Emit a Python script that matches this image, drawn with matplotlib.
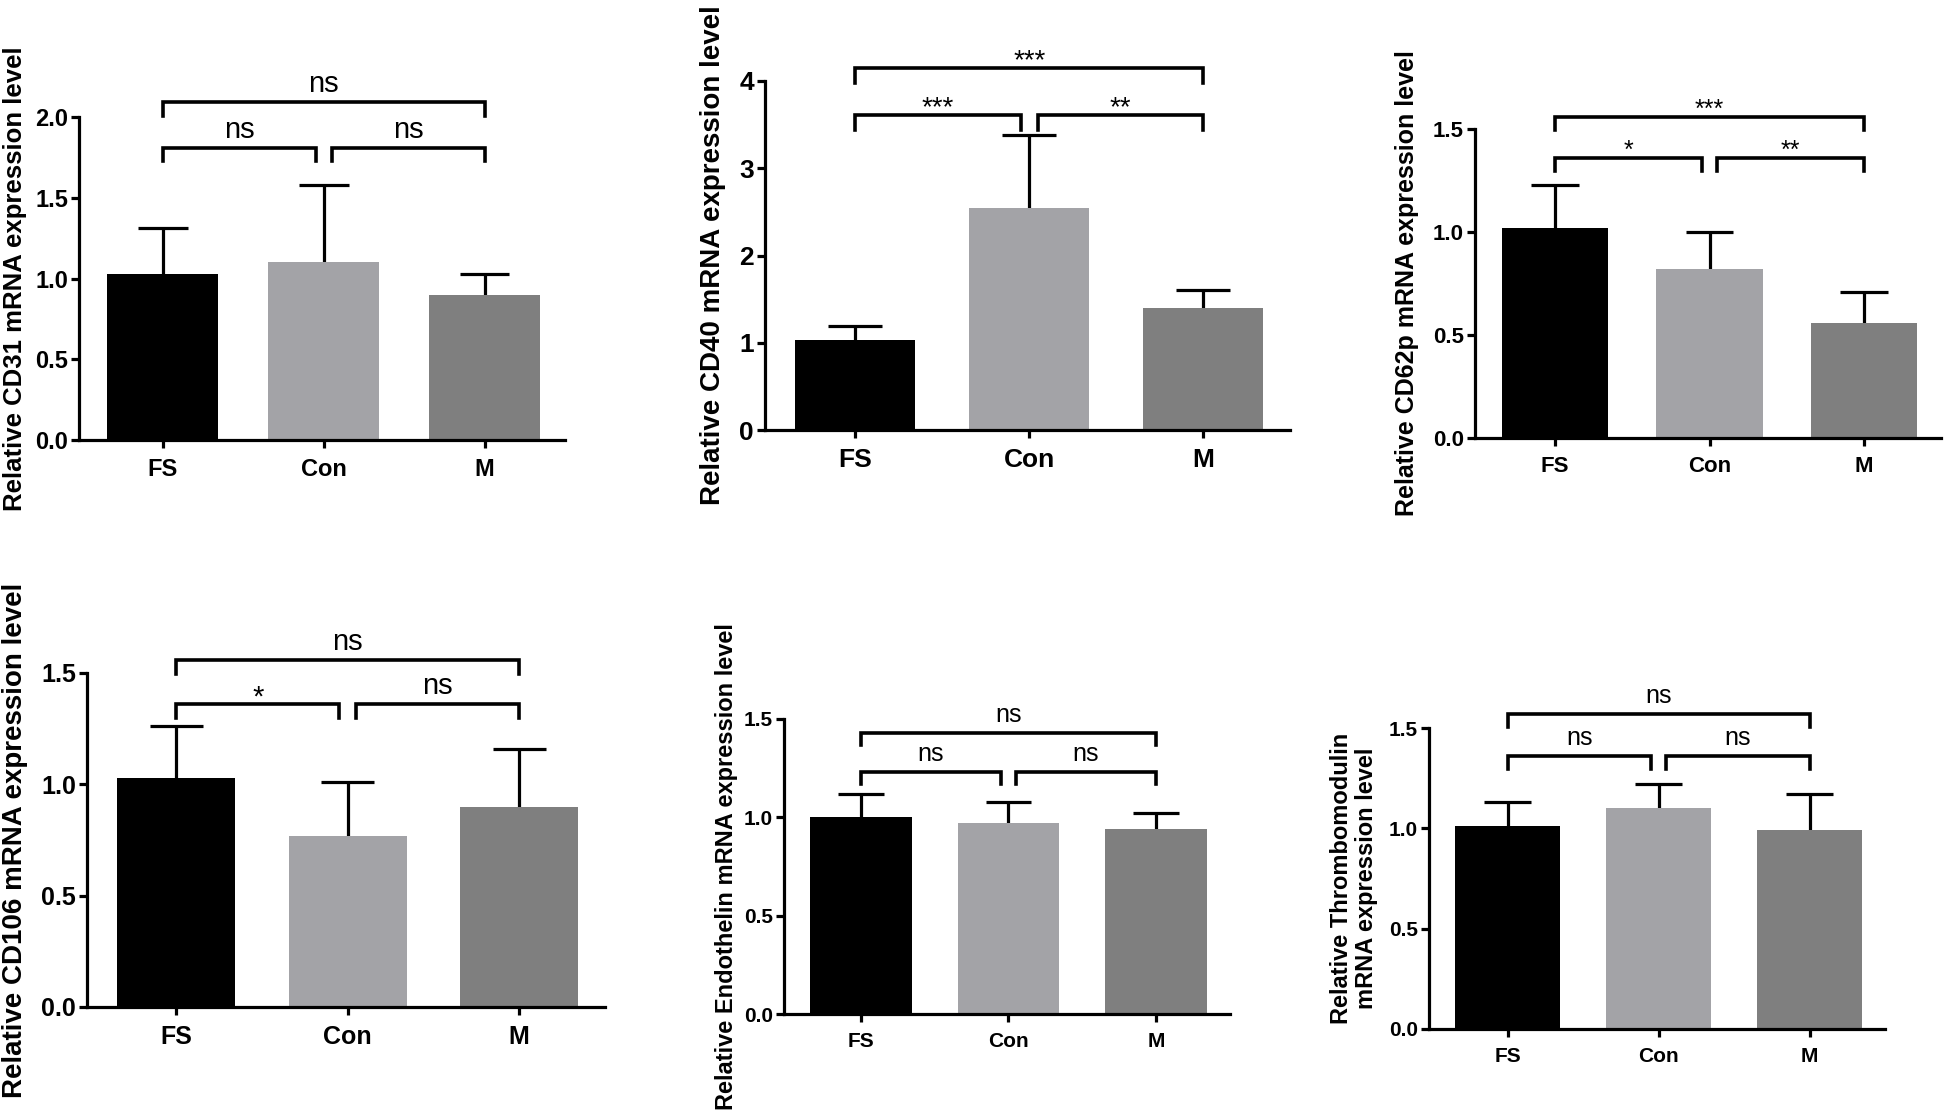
import numpy as np
import matplotlib.pyplot as plt

plt.rcParams['font.family'] = ['Liberation Sans', 'DejaVu Sans']

groups = ['FS', 'Con', 'M']
bar_colors = ['#000000', '#a3a3a7', '#7f7f7f']

# mean and upper SD of each group, per gene
cd31_mean = [1.03, 1.10, 0.90]
cd31_err = [0.28, 0.48, 0.13]
cd40_mean = [1.03, 2.54, 1.40]
cd40_err = [0.16, 0.84, 0.20]
cd62p_mean = [1.02, 0.82, 0.56]
cd62p_err = [0.21, 0.18, 0.15]
cd106_mean = [1.03, 0.77, 0.90]
cd106_err = [0.23, 0.24, 0.26]
endo_mean = [1.00, 0.97, 0.94]
endo_err = [0.12, 0.11, 0.08]
thrombo_mean = [1.01, 1.10, 0.99]
thrombo_err = [0.12, 0.12, 0.18]

# significance: FS-Con, Con-M, FS-M
cd31_sig = ['ns', 'ns', 'ns']
cd40_sig = ['***', '**', '***']
cd62p_sig = ['*', '**', '***']
cd106_sig = ['*', 'ns', 'ns']
endo_sig = ['ns', 'ns', 'ns']
thrombo_sig = ['ns', 'ns', 'ns']

# bracket heights (lower pair, upper)
cd31_br = [1.81, 2.09]
cd40_br = [3.61, 4.15]
cd62p_br = [1.36, 1.56]
cd106_br = [1.36, 1.56]
endo_br = [1.23, 1.43]
thrombo_br = [1.36, 1.57]

y_max = [2.0, 4.0, 1.5, 1.5, 1.5, 1.5]
y_ticks = [[0.0, 0.5, 1.0, 1.5, 2.0], [0, 1, 2, 3, 4], [0.0, 0.5, 1.0, 1.5],
           [0.0, 0.5, 1.0, 1.5], [0.0, 0.5, 1.0, 1.5], [0.0, 0.5, 1.0, 1.5]]
tick_fmt = ['{:.1f}', '{:d}', '{:.1f}', '{:.1f}', '{:.1f}', '{:.1f}']
ylabels = ['Relative CD31 mRNA expression level',
           'Relative CD40 mRNA expression level',
           'Relative CD62p mRNA expression level',
           'Relative CD106 mRNA expression level',
           'Relative Endothelin mRNA expression level',
           'Relative Thrombomodulin\nmRNA expression level']

W, H = 1944, 1115
fig = plt.figure(figsize=(W / 100, H / 100), dpi=100)

# axes boxes in pixels: left, top, right, bottom
boxes = [(79, 117, 565, 440), (765, 81, 1290, 430), (1475, 129, 1941, 438),
         (87, 673, 605, 1007), (784, 719, 1230, 1014), (1429, 728, 1885, 1029)]
label_x = [15, 713, 1407, 15, 726, 1354]
tick_size = [17, 19, 16, 18, 15, 15]
ylab_size = [18.5, 20, 18, 20, 17, 17]
sig_size = [21, 20, 18, 21, 18, 18]

means = [cd31_mean, cd40_mean, cd62p_mean, cd106_mean, endo_mean, thrombo_mean]
errs = [cd31_err, cd40_err, cd62p_err, cd106_err, endo_err, thrombo_err]
sigs = [cd31_sig, cd40_sig, cd62p_sig, cd106_sig, endo_sig, thrombo_sig]
brs = [cd31_br, cd40_br, cd62p_br, cd106_br, endo_br, thrombo_br]

x = np.arange(len(groups))
lw = 2.3

for i in range(6):
    l, t, r, b = boxes[i]
    ax = fig.add_axes([l / W, 1 - b / H, (r - l) / W, (b - t) / H])
    m = np.array(means[i])
    e = np.array(errs[i])
    ax.bar(x, m, width=0.69, color=bar_colors, zorder=2)
    ax.vlines(x, m, m + e, color='black', lw=lw, zorder=1)
    ax.hlines(m + e, x - 0.155, x + 0.155, color='black', lw=lw, zorder=1)

    ax.set_xlim(-0.52, 2.5)
    ax.set_ylim(0, y_max[i])
    ax.set_yticks(y_ticks[i])
    ax.set_yticklabels([tick_fmt[i].format(v) for v in y_ticks[i]])
    ax.set_xticks(x)
    ax.set_xticklabels(groups)
    for lab in ax.get_xticklabels() + ax.get_yticklabels():
        lab.set_fontweight('bold')
        lab.set_fontsize(tick_size[i])
    ax.tick_params(axis='y', length=6, width=lw, pad=2)
    ax.tick_params(axis='x', length=6, width=lw, pad=7)
    for s in ['top', 'right']:
        ax.spines[s].set_visible(False)
    for s in ['left', 'bottom']:
        ax.spines[s].set_linewidth(lw)

    # brackets
    drop = 0.042 * y_max[i]
    lo, hi = brs[i]
    spans = [(0, 1 - 0.05, lo), (1 + 0.05, 2, lo), (0, 2, hi)]
    for (x0, x1, yy), s in zip(spans, sigs[i]):
        ax.plot([x0, x0, x1, x1], [yy - drop, yy, yy, yy - drop],
                color='black', lw=2.6, clip_on=False, solid_joinstyle='miter')
        dy = 13 if s == 'ns' else 5
        ax.annotate(s, xy=((x0 + x1) / 2, yy), xytext=(0, dy),
                    textcoords='offset points', ha='center', va='center',
                    fontsize=sig_size[i], annotation_clip=False)

    fig.text(label_x[i] / W, 1 - ((t + b) / 2) / H, ylabels[i], rotation=90,
             ha='center', va='center', fontsize=ylab_size[i],
             fontweight='bold', linespacing=1.1)

fig.savefig('out.png', dpi=100)
